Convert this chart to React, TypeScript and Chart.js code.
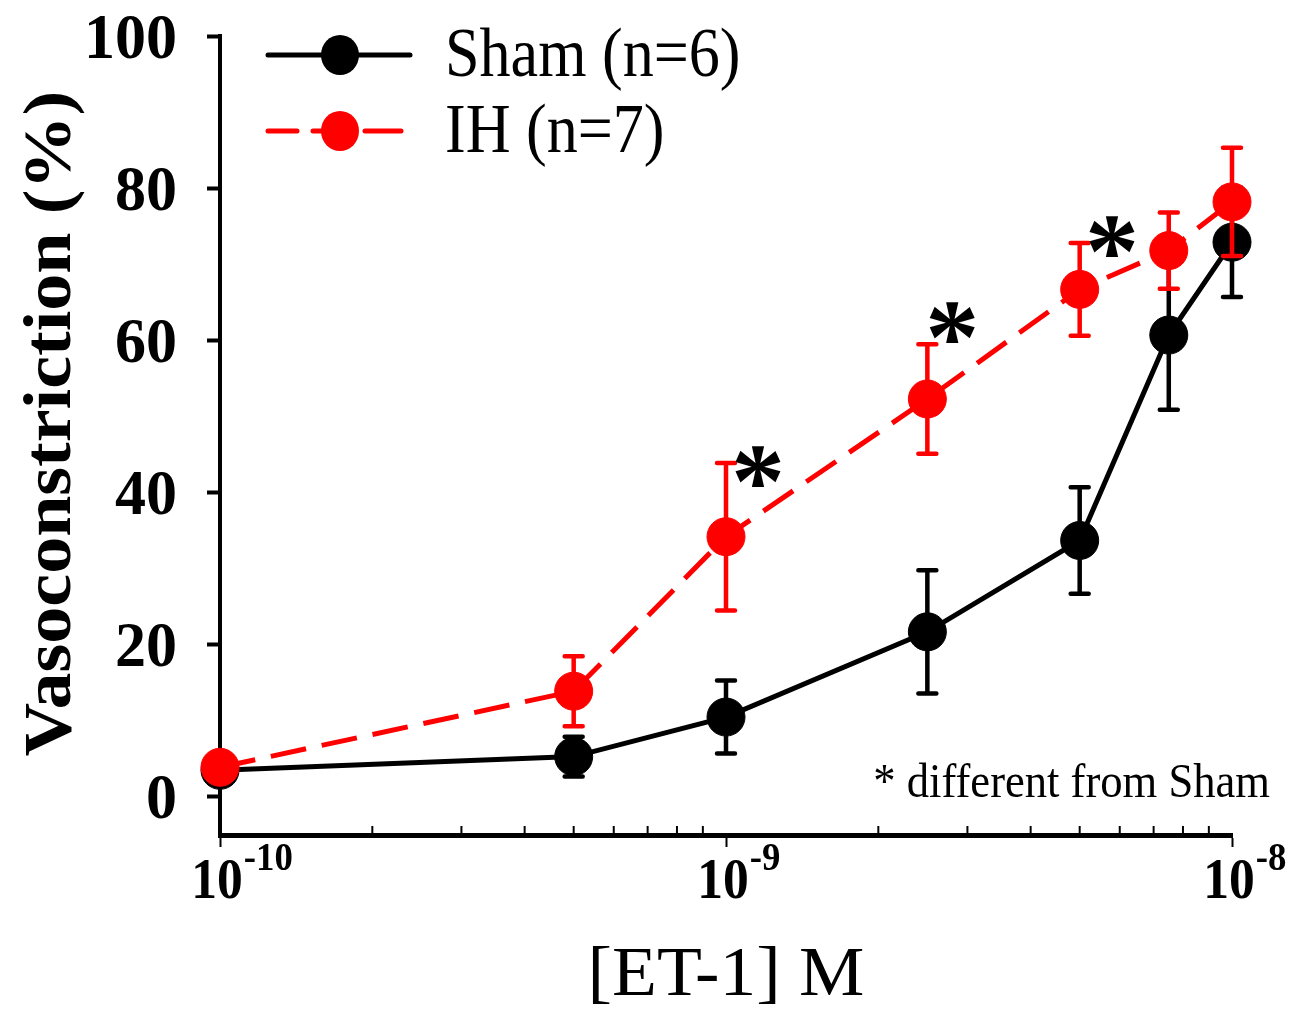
import React, { useEffect, useRef } from "react";
import { Chart, registerables } from "chart.js";

Chart.register(...registerables);

// ---- data ----
const concentrations = [1e-10, 5e-10, 1e-9, 2.5e-9, 5e-9, 7.5e-9, 1e-8];
const shamMean = [3.5, 5.3, 10.5, 21.7, 33.7, 60.7, 72.9];
const shamSem = [1.0, 2.6, 4.8, 8.1, 7.0, 9.8, 7.2];
const ihMean = [3.9, 13.9, 34.2, 52.3, 66.7, 71.8, 78.2];
const ihSem = [1.0, 4.6, 9.7, 7.2, 6.1, 5.0, 7.1];
const seriesLabels = ["Sham (n=6)", "IH (n=7)"];
const seriesColors = ["#000000", "#ff0000"];
const xMajorTicks = [1e-10, 1e-9, 1e-8];
const xTickExponents = ["-10", "-9", "-8"];
const yTicks = [0, 20, 40, 60, 80, 100];
const starX = [1.157e-9, 2.8e-9, 5.79e-9];
const starY = [43.4, 62.4, 73.6];
const yTitle = "Vasoconstriction (%)";
const xTitle = "[ET-1] M";
const footnote = "* different from Sham";

const SERIF = '"Liberation Serif", "Times New Roman", Times, serif';

function drawText(
  ctx: CanvasRenderingContext2D,
  s: string,
  x: number,
  y: number,
  font: string,
  align: CanvasTextAlign,
  sx = 1
) {
  ctx.save();
  ctx.font = font;
  ctx.fillStyle = "#000";
  ctx.textBaseline = "alphabetic";
  ctx.textAlign = align;
  ctx.translate(x, y);
  ctx.scale(sx, 1);
  ctx.fillText(s, 0, 0);
  ctx.restore();
}

const errorBarPlugin = {
  id: "errorBars",
  beforeDatasetDraw(chart: any, args: any) {
    const ds = chart.data.datasets[args.index];
    const sem: number[] = ds.sem;
    const ys = chart.scales.y;
    const ctx: CanvasRenderingContext2D = chart.ctx;
    ctx.save();
    ctx.strokeStyle = ds.borderColor;
    ctx.lineWidth = 4.5;
    ctx.lineCap = "round";
    ctx.setLineDash([]);
    args.meta.data.forEach((pt: any, j: number) => {
      const v = ds.data[j].y;
      const top = ys.getPixelForValue(v + sem[j]);
      const bot = ys.getPixelForValue(v - sem[j]);
      const x = pt.x;
      ctx.beginPath();
      ctx.moveTo(x, top);
      ctx.lineTo(x, bot);
      ctx.moveTo(x - 9, top);
      ctx.lineTo(x + 9, top);
      ctx.moveTo(x - 9, bot);
      ctx.lineTo(x + 9, bot);
      ctx.stroke();
    });
    ctx.restore();
  },
};

const decorPlugin = {
  id: "decor",
  beforeDatasetsDraw(chart: any) {
    // minor ticks of the log axis, pointing inward
    const ctx: CanvasRenderingContext2D = chart.ctx;
    const xs = chart.scales.x;
    const bottom = chart.chartArea.bottom;
    ctx.save();
    ctx.strokeStyle = "#000";
    ctx.lineWidth = 2;
    for (let d = 0; d < xMajorTicks.length - 1; d++) {
      for (let m = 2; m <= 9; m++) {
        const px = xs.getPixelForValue(xMajorTicks[d] * m);
        ctx.beginPath();
        ctx.moveTo(px, bottom - 2);
        ctx.lineTo(px, bottom - 9);
        ctx.stroke();
      }
    }
    ctx.restore();
  },
  afterDraw(chart: any) {
    const ctx: CanvasRenderingContext2D = chart.ctx;
    const xs = chart.scales.x;
    const ys = chart.scales.y;
    const area = chart.chartArea;

    // y tick labels
    yTicks.forEach((v) => {
      const py = ys.getPixelForValue(v);
      drawText(ctx, String(v), area.left - 43, py + 21.5, `bold 64px ${SERIF}`, "right", 0.97);
    });

    // x tick labels with superscripts
    xMajorTicks.forEach((v, i) => {
      const px = xs.getPixelForValue(v);
      ctx.save();
      ctx.font = `bold 56px ${SERIF}`;
      const w = ctx.measureText("10").width * 0.92;
      ctx.restore();
      const left = px - 3 - w / 2;
      drawText(ctx, "10", left, area.bottom + 63, `bold 56px ${SERIF}`, "left", 0.92);
      drawText(ctx, xTickExponents[i], left + w + 1, area.bottom + 35, `bold 40px ${SERIF}`, "left", 0.92);
    });

    // y title
    ctx.save();
    ctx.font = `bold 74px ${SERIF}`;
    ctx.fillStyle = "#000";
    ctx.textAlign = "center";
    ctx.textBaseline = "alphabetic";
    ctx.translate(70, (area.top + area.bottom) / 2 - 12);
    ctx.rotate(-Math.PI / 2);
    ctx.scale(1, 0.92);
    ctx.fillText(yTitle, 0, 0);
    ctx.restore();

    // x title
    drawText(ctx, xTitle, (area.left + area.right) / 2 + 0, area.bottom + 160, `70px ${SERIF}`, "center", 1.05);

    // footnote
    drawText(ctx, footnote, area.right + 38, ys.getPixelForValue(0), `49px ${SERIF}`, "right", 0.91);

    // significance asterisks
    ctx.save();
    ctx.font = `bold 100px ${SERIF}`;
    const m = ctx.measureText("*");
    const h100 = m.actualBoundingBoxAscent + m.actualBoundingBoxDescent;
    const size = (41 / h100) * 100;
    ctx.font = `bold ${size}px ${SERIF}`;
    ctx.fillStyle = "#000";
    ctx.textAlign = "left";
    ctx.textBaseline = "alphabetic";
    const mm = ctx.measureText("*");
    starX.forEach((sv, i) => {
      const cx = xs.getPixelForValue(sv);
      const cy = ys.getPixelForValue(starY[i]);
      const dx = cx - (mm.actualBoundingBoxRight - mm.actualBoundingBoxLeft) / 2;
      const dy = cy + (mm.actualBoundingBoxAscent - mm.actualBoundingBoxDescent) / 2;
      ctx.fillText("*", dx, dy);
    });
    ctx.restore();

    // legend
    const legendY = [55, 131];
    chart.data.datasets.forEach((ds: any, i: number) => {
      const y = legendY[i];
      ctx.save();
      ctx.strokeStyle = ds.borderColor;
      ctx.lineWidth = 5;
      ctx.lineCap = "round";
      ctx.setLineDash(ds.borderDash || []);
      ctx.lineDashOffset = ds.borderDash ? 7 : 0;
      ctx.beginPath();
      ctx.moveTo(268, y);
      ctx.lineTo(410, y);
      ctx.stroke();
      ctx.setLineDash([]);
      ctx.fillStyle = ds.pointBackgroundColor;
      ctx.beginPath();
      ctx.ellipse(340, y, 19, 20, 0, 0, Math.PI * 2);
      ctx.fill();
      ctx.restore();
      drawText(ctx, ds.label, 445, y + 21, `69px ${SERIF}`, "left", 0.9);
    });
  },
};

export default function App() {
  const canvasRef = useRef<HTMLCanvasElement | null>(null);

  useEffect(() => {
    if (!canvasRef.current) return;
    const sham = concentrations.map((x, i) => ({ x, y: shamMean[i] }));
    const ih = concentrations.map((x, i) => ({ x, y: ihMean[i] }));
    const chart = new Chart(canvasRef.current, {
      type: "line",
      data: {
        datasets: [
          {
            label: seriesLabels[0],
            data: sham,
            sem: shamSem,
            borderColor: seriesColors[0],
            backgroundColor: seriesColors[0],
            pointBackgroundColor: seriesColors[0],
            pointBorderColor: seriesColors[0],
            borderWidth: 5,
            pointRadius: 19,
            pointBorderWidth: 1,
            tension: 0,
            clip: false,
            order: 1,
          } as any,
          {
            label: seriesLabels[1],
            data: ih,
            sem: ihSem,
            borderColor: seriesColors[1],
            backgroundColor: seriesColors[1],
            pointBackgroundColor: seriesColors[1],
            pointBorderColor: seriesColors[1],
            borderWidth: 5,
            borderDash: [36, 16],
            pointRadius: 19,
            pointBorderWidth: 1,
            tension: 0,
            clip: false,
            order: 0,
          } as any,
        ],
      },
      options: {
        responsive: false,
        animation: false,
        layout: { padding: { top: 36, right: 66, left: 0, bottom: 0 } },
        plugins: {
          legend: { display: false },
          tooltip: { enabled: false },
          title: { display: false },
        },
        scales: {
          x: {
            type: "logarithmic",
            min: 1e-10,
            max: 1e-8,
            afterBuildTicks: (s: any) => {
              s.ticks = xMajorTicks.map((v) => ({ value: v, major: true }));
            },
            ticks: { display: false },
            grid: {
              drawOnChartArea: false,
              drawTicks: true,
              tickLength: 12,
              tickWidth: 2,
              tickColor: "#000",
            },
            border: { display: true, color: "#000", width: 5 },
            afterFit: (s: any) => {
              s.height = 176;
            },
          },
          y: {
            type: "linear",
            min: -5,
            max: 100,
            afterBuildTicks: (s: any) => {
              s.ticks = yTicks.map((v) => ({ value: v }));
            },
            ticks: { display: false },
            grid: {
              drawOnChartArea: false,
              drawTicks: true,
              tickLength: 13,
              tickWidth: 4,
              tickColor: "#000",
            },
            border: { display: true, color: "#000", width: 4 },
            afterFit: (s: any) => {
              s.width = 220;
            },
          },
        },
      } as any,
      plugins: [errorBarPlugin, decorPlugin],
    });
    return () => chart.destroy();
  }, []);

  return (
    <div style={{ position: "absolute", left: 0, top: 0, width: 1298, height: 1011, background: "#fff" }}>
      <canvas ref={canvasRef} width={1298} height={1011} style={{ display: "block" }} />
    </div>
  );
}
